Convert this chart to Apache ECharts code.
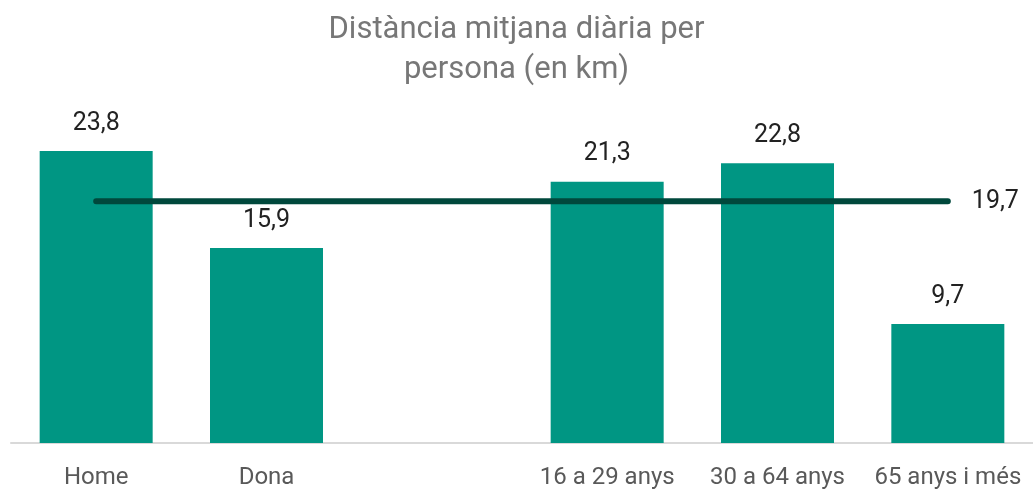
<!DOCTYPE html>
<html>
<head>
<meta charset="utf-8">
<script src="https://cdn.jsdelivr.net/npm/echarts@6/dist/echarts.min.js"></script>
<style>
  html, body { margin: 0; padding: 0; background: #fff; }
  #chart { width: 1033px; height: 490px; }
</style>
</head>
<body>
<div id="chart"></div>
<script>
const categories = ["Home", "Dona", "", "16 a 29 anys", "30 a 64 anys", "65 anys i més"];
const distances = [23.8, 15.9, null, 21.3, 22.8, 9.7];
const average = 19.7;

const fmt = (v) => String(v).replace(".", ",");

const chart = echarts.init(document.getElementById("chart"));

const option = {
  animation: false,
  textStyle: { fontFamily: "Roboto" },
  title: {
    text: "Distància mitjana diària per\npersona (en km)",
    left: "center",
    top: 5,
    textStyle: {
      color: "#777",
      fontSize: 31,
      fontWeight: "normal",
      lineHeight: 40,
    },
  },
  grid: { left: 11, right: 0, top: 75, bottom: 47 },
  xAxis: {
    type: "category",
    data: categories,
    axisTick: { show: false },
    axisLine: { lineStyle: { color: "#d9d9d9", width: 2 } },
    axisLabel: { color: "#595959", fontSize: 24, margin: 23, interval: 0 },
  },
  yAxis: {
    type: "value",
    min: 0,
    max: 30,
    show: false,
    splitLine: { show: false },
  },
  series: [
    {
      type: "bar",
      data: distances,
      barWidth: 113,
      itemStyle: { color: "#009683" },
      label: {
        show: true,
        position: "top",
        distance: 15,
        color: "#222",
        fontSize: 25,
        formatter: (p) => fmt(p.value),
      },
    },
    {
      type: "line",
      data: categories.map(() => average),
      showSymbol: false,
      symbol: "none",
      lineStyle: { color: "#00483c", width: 6, cap: "round" },
      endLabel: {
        show: true,
        color: "#222",
        fontSize: 25,
        distance: 24,
        formatter: () => fmt(average),
      },
      z: 5,
    },
  ],
};

chart.setOption(option);
window.addEventListener("resize", () => chart.resize());
</script>
</body>
</html>
